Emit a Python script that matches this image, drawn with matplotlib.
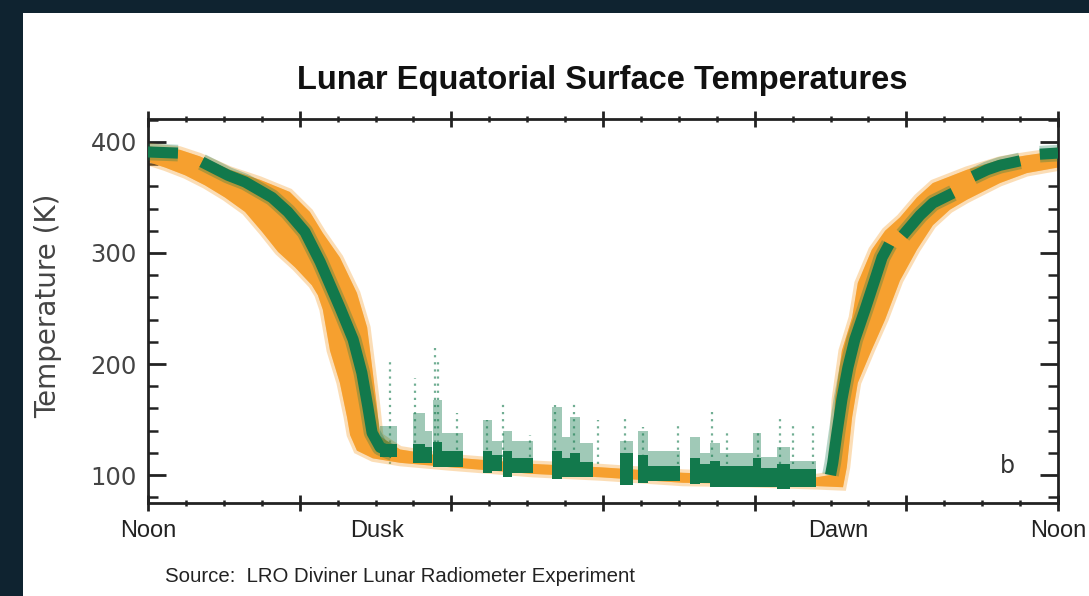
import numpy as np
import matplotlib.pyplot as plt
from matplotlib.patches import Rectangle
from matplotlib.ticker import MultipleLocator

ORANGE = '#f6a02f'
GREEN = '#12794c'
BG = '#0f2330'

# x = hours after local noon (0 .. 24), y = temperature (K)
# orange cloud, upper edge (left -> right)
orange_up_h = [0, 0.84, 1.37, 2.16, 2.95, 3.74, 4.27, 4.61, 5.06, 5.51, 5.78, 5.93, 6.04, 6.12,
               6.38, 6.65, 7.96, 10.15, 11.92, 14.11, 15.88, 17.64, 17.99, 18.06, 18.12, 18.3,
               18.57, 18.72, 19.09, 19.44, 19.83, 20.28, 20.7, 21.6, 22.47, 23.18, 24]
orange_up_T = [396, 393, 387, 375, 366, 355, 337, 318, 296, 264, 233, 192, 161, 135,
               129, 123, 116, 110, 107, 102, 100, 98, 100, 130, 168, 212,
               242, 273, 303, 320, 332, 350, 363, 375, 384, 388, 392]
# orange cloud, lower edge (right -> left)
orange_lo_h = [24, 23.18, 22.47, 21.6, 21.15, 20.7, 20.28, 19.83, 19.44, 19.09, 18.72, 18.57,
               18.43, 18.33, 17.64, 15.88, 14.11, 11.92, 10.15, 7.96, 6.65, 5.93, 5.51, 5.33,
               5.25, 5.06, 4.8, 4.61, 4.48, 4.32, 3.88, 3.43, 3.01, 2.56, 2.03, 1.5, 0.98,
               0.45, 0]
orange_lo_T = [377, 372, 363, 348, 339, 325, 303, 275, 240, 213, 183, 152,
               107, 89, 90, 92, 93, 98, 101, 107, 111, 115, 122, 136,
               152, 183, 212, 249, 262, 271, 287, 301, 319, 337, 350, 361, 370,
               377, 382]

# green traces during daytime (centre lines)
green_noon_h = [0, 0.79]
green_noon_T = [391, 390]
green_dusk_h = [1.42, 2.11, 2.56, 3.27, 3.69, 4.14, 4.54, 5.06, 5.41, 5.64, 5.8, 5.91, 6.12, 6.46]
green_dusk_T = [382, 370, 364, 350, 337, 319, 292, 251, 222, 192, 161, 138, 125, 120]
green_dawn_h = [18.0, 18.06, 18.17, 18.3, 18.46, 18.64, 18.91, 19.17, 19.36, 19.55]
green_dawn_T = [100, 111, 138, 168, 197, 222, 249, 276, 296, 308]
green_morn_h = [19.91, 20.36, 20.7, 21.23]
green_morn_T = [316, 334, 345, 354]
green_late_h = [21.76, 22.13, 22.47, 23.0]
green_late_T = [369, 375, 379, 383]
green_end_h = [23.52, 24]
green_end_T = [389, 390]

# green night-time columns: start/end hour, bottom, dense top, sparse top
col_h0 = [6.12, 7.0, 7.31, 7.52, 7.75, 8.84, 9.06, 9.37, 9.59, 10.65, 10.91, 11.13,
          11.39, 12.45, 12.93, 13.19, 14.29, 14.56, 14.82, 15.08, 15.96, 16.18, 16.58, 16.93]
col_h1 = [6.56, 7.31, 7.48, 7.75, 8.31, 9.06, 9.33, 9.59, 10.16, 10.91, 11.13, 11.39,
          11.74, 12.8, 13.19, 14.03, 14.56, 14.82, 15.08, 15.96, 16.18, 16.58, 16.93, 17.63]
col_lo = [116, 111, 111, 107, 107, 102, 104, 98, 102, 96, 98, 98,
          98, 91, 93, 95, 92, 93, 89, 89, 89, 89, 87, 89]
col_core = [128, 128, 125, 130, 122, 122, 118, 122, 115, 122, 115, 120,
            112, 120, 118, 108, 115, 110, 113, 108, 115, 106, 110, 105]
col_hi = [144, 156, 140, 168, 138, 150, 131, 140, 131, 161, 134, 152,
          129, 131, 140, 122, 134, 120, 129, 120, 138, 116, 125, 113]

# isolated warm green readings at night
spike_h = [6.38, 7.04, 7.57, 7.65, 8.15, 8.94, 9.36, 10.07, 10.73, 11.23, 11.87,
           12.58, 13.05, 13.98, 14.87, 15.27, 16.09, 16.67, 17.01, 17.54]
spike_T = [204, 187, 215, 202, 156, 150, 168, 136, 163, 168, 150,
           154, 143, 145, 160, 141, 138, 154, 148, 147]

day_labels = ['Noon', 'Dusk', 'Dawn', 'Noon']
day_label_h = [0, 6.05, 18.2, 24]

fig = plt.figure(figsize=(10.89, 5.96), dpi=100, facecolor=BG)
fig.patches.append(Rectangle((23 / 1089, 0), 1, 1 - 13 / 596, transform=fig.transFigure,
                             facecolor='white', edgecolor='none', zorder=-1))
ax = fig.add_axes([148 / 1089, 1 - 503 / 596, 910 / 1089, 384 / 596])
ax.set_facecolor('white')

# night spikes
ax.vlines(spike_h, 110, spike_T, colors=GREEN, linestyles=(0, (1, 2.2)), lw=1.6, alpha=0.6, zorder=1)

# orange cloud
poly_h = np.concatenate([orange_up_h, orange_lo_h])
poly_T = np.concatenate([orange_up_T, orange_lo_T])
ax.fill(poly_h, poly_T, facecolor=ORANGE, edgecolor=ORANGE, lw=5, alpha=0.35, zorder=2)
ax.fill(poly_h, poly_T, facecolor=ORANGE, edgecolor='none', zorder=2)

# night green columns
w = np.array(col_h1) - np.array(col_h0)
ax.bar(col_h0, np.array(col_hi) - np.array(col_core), width=w, bottom=col_core,
       align='edge', color=GREEN, alpha=0.4, lw=0, zorder=3)
ax.bar(col_h0, np.array(col_core) - np.array(col_lo), width=w, bottom=col_lo,
       align='edge', color=GREEN, lw=0, zorder=3)

# green traces
for hh, tt in [(green_noon_h, green_noon_T), (green_dusk_h, green_dusk_T),
               (green_dawn_h, green_dawn_T), (green_morn_h, green_morn_T),
               (green_late_h, green_late_T), (green_end_h, green_end_T)]:
    ax.plot(hh, tt, color=GREEN, lw=12, alpha=0.3, solid_capstyle='butt', zorder=4)
    ax.plot(hh, tt, color=GREEN, lw=8, solid_capstyle='butt', solid_joinstyle='round', zorder=4)

ax.set_xlim(0, 24)
ax.set_ylim(74.8, 420.7)
ax.xaxis.set_major_locator(MultipleLocator(4))
ax.xaxis.set_minor_locator(MultipleLocator(1))
ax.yaxis.set_major_locator(MultipleLocator(100))
ax.yaxis.set_minor_locator(MultipleLocator(20))
ax.tick_params(axis='x', which='both', direction='inout', top=True, bottom=True,
               labelbottom=False, color='#222222')
ax.tick_params(axis='x', which='major', length=11, width=2)
ax.tick_params(axis='x', which='minor', length=5, width=1.8)
ax.tick_params(axis='y', which='both', direction='in', left=True, right=True, color='#222222')
ax.tick_params(axis='y', which='major', length=13, width=2, labelsize=17.5,
               labelcolor='#444444', pad=8)
ax.tick_params(axis='y', which='minor', length=7, width=1.8)
for s in ax.spines.values():
    s.set_linewidth(2)
    s.set_color('#222222')

ax.set_ylabel('Temperature (K)', fontsize=20, color='#444444')
ax.yaxis.set_label_coords(-0.094, 0.513)

for lab, h in zip(day_labels, day_label_h):
    ax.text(h, -0.073, lab, transform=ax.get_xaxis_transform(), ha='center', va='center',
            fontsize=17, family='Liberation Sans', color='#222222')

ax.text(0.944, 0.096, 'b', transform=ax.transAxes, ha='center', va='center',
        fontsize=17, color='#333333')

fig.text(602 / 1089, 1 - 80 / 596, 'Lunar Equatorial Surface Temperatures', ha='center',
         va='center', fontsize=23.5, fontweight='bold', family='Liberation Sans', color='#111111')
fig.text(165 / 1089, 1 - 577 / 596, 'Source:  LRO Diviner Lunar Radiometer Experiment',
         ha='left', va='center', fontsize=14.7, family='Liberation Sans', color='#222222')

fig.savefig('out.png', dpi=100, facecolor=BG)
